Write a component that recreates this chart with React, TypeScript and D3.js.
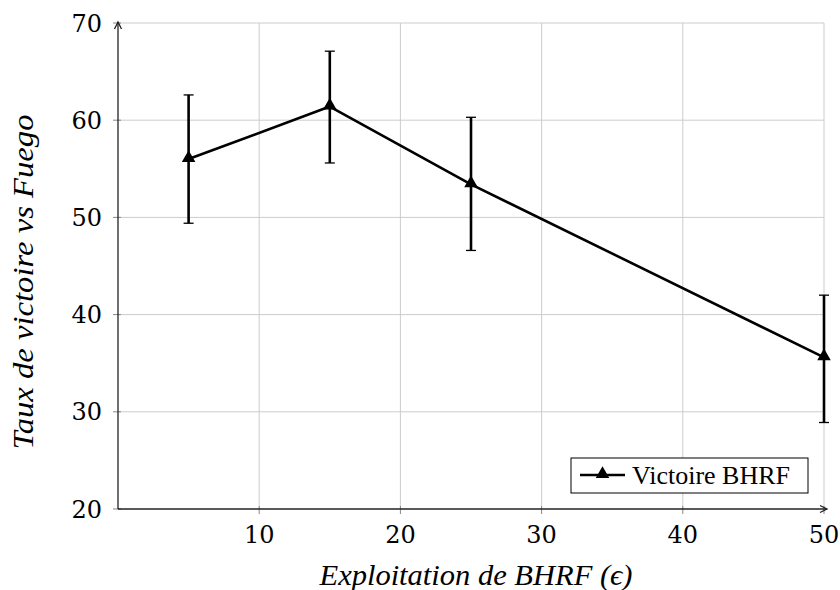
import React from "react";
import * as d3 from "d3";

const xValues = [5, 15, 25, 50];
const yValues = [56.0, 61.4, 53.4, 35.6];
const yErrLow = [49.4, 55.6, 46.6, 28.9];
const yErrHigh = [62.6, 67.1, 60.3, 42.0];
const xTicks = [10, 20, 30, 40, 50];
const yTicks = [20, 30, 40, 50, 60, 70];
const seriesName = "Victoire BHRF";
const xLabel = "Exploitation de BHRF (\u03f5)";
const yLabel = "Taux de victoire vs Fuego";

const W = 840, H = 590;
const L = 118, R = 824, T = 23, B = 509;

export default function App() {
  const x = d3.scaleLinear().domain([0, 50]).range([L, R]);
  const y = d3.scaleLinear().domain([20, 70]).range([B, T]);
  const line = d3.line<number>().x((_, i) => x(xValues[i])).y((d) => y(d));
  const tri = d3.symbol().type(d3.symbolTriangle).size(80)();
  const tickFont = "DejaVu Serif";
  const labelFont = "Liberation Serif";
  return (
    <svg width={W} height={H} style={{ position: "absolute", left: 0, top: 0 }}>
      <rect width={W} height={H} fill="white" />
      {xTicks.map((t) => (
        <line key={"gx" + t} x1={x(t)} x2={x(t)} y1={y(70)} y2={y(20)} stroke="#cccccc" strokeWidth={1} />
      ))}
      {yTicks.filter((t) => t > 20).map((t) => (
        <line key={"gy" + t} x1={x(0)} x2={x(50)} y1={y(t)} y2={y(t)} stroke="#cccccc" strokeWidth={1} />
      ))}
      {xTicks.map((t) => (
        <line key={"tx" + t} x1={x(t)} x2={x(t)} y1={B - 3} y2={B + 5} stroke="#888" strokeWidth={1} />
      ))}
      {yTicks.map((t) => (
        <line key={"ty" + t} x1={L - 5} x2={L + 3} y1={y(t)} y2={y(t)} stroke="#888" strokeWidth={1} />
      ))}
      <line x1={L} x2={L} y1={B} y2={T - 1} stroke="#222" strokeWidth={1.3} />
      <path d={`M${L - 3.5},${T + 6} L${L},${T - 1} L${L + 3.5},${T + 6}`} fill="none" stroke="#222" strokeWidth={1.3} />
      <line x1={L} x2={R + 3} y1={B} y2={B} stroke="#222" strokeWidth={1.3} />
      <path d={`M${R - 4},${B - 3.5} L${R + 3},${B} L${R - 4},${B + 3.5}`} fill="none" stroke="#222" strokeWidth={1.3} />
      {xTicks.map((t) => (
        <text key={"lx" + t} x={x(t)} y={543} textAnchor="middle" fontFamily={tickFont} fontSize={24}>{t}</text>
      ))}
      {yTicks.map((t) => (
        <text key={"ly" + t} x={102} y={y(t) + 8.5} textAnchor="end" fontFamily={tickFont} fontSize={24}>{t}</text>
      ))}
      <text x={476} y={585} textAnchor="middle" fontFamily={labelFont} fontStyle="italic" fontSize={29}
        textLength={313} lengthAdjust="spacingAndGlyphs">{xLabel}</text>
      <text transform="translate(33,282) rotate(-90)" textAnchor="middle" fontFamily={labelFont} fontStyle="italic" fontSize={29}
        textLength={335} lengthAdjust="spacingAndGlyphs">{yLabel}</text>
      {xValues.map((xv, i) => (
        <g key={"e" + i} stroke="black" strokeWidth={2.6}>
          <line x1={x(xv)} x2={x(xv)} y1={y(yErrLow[i])} y2={y(yErrHigh[i])} />
          <line x1={x(xv) - 5} x2={x(xv) + 5} y1={y(yErrLow[i])} y2={y(yErrLow[i])} strokeWidth={1.3} />
          <line x1={x(xv) - 5} x2={x(xv) + 5} y1={y(yErrHigh[i])} y2={y(yErrHigh[i])} strokeWidth={1.3} />
        </g>
      ))}
      <path d={line(yValues) || ""} fill="none" stroke="black" strokeWidth={2.6} strokeLinejoin="round" />
      {xValues.map((xv, i) => (
        <path key={"m" + i} d={tri || ""} transform={`translate(${x(xv)},${y(yValues[i]) - 1})`} fill="black" />
      ))}
      <rect x={571} y={458} width={237} height={35} fill="white" stroke="black" strokeWidth={1} />
      <line x1={580} x2={625} y1={475} y2={475} stroke="black" strokeWidth={2.6} />
      <path d={tri || ""} transform="translate(602.5,474)" fill="black" />
      <text x={632} y={484} fontFamily={labelFont} fontSize={26}>{seriesName}</text>
    </svg>
  );
}
